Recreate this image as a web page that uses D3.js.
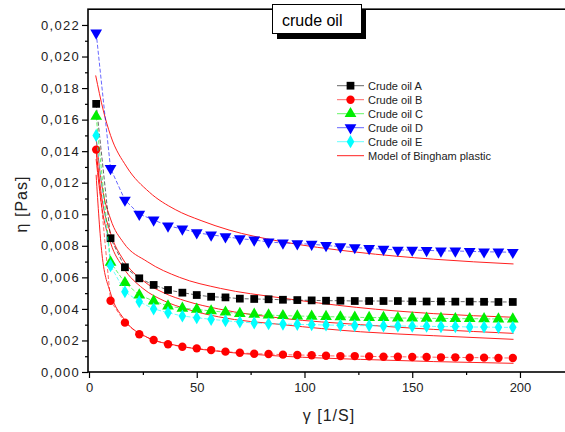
<!DOCTYPE html>
<html>
<head>
<meta charset="utf-8">
<script src="https://cdn.jsdelivr.net/npm/d3@7"></script>
<style>
  body { margin: 0; background: #fff; }
  text { font-family: Arial, "Liberation Sans", sans-serif; }
</style>
</head>
<body>
<svg id="chart"></svg>
<script>
const width = 565;
const height = 432;

// shear rate steps [1/s]
const shearRate = [3.33, 10, 16.67, 23.33, 30, 36.67, 43.33, 50, 56.67, 63.33,
  70, 76.67, 83.33, 90, 96.67, 103.33, 110, 116.67, 123.33, 130,
  136.67, 143.33, 150, 156.67, 163.33, 170, 176.67, 183.33, 190, 196.67];

const oilA = [0.0170, 0.00848, 0.00664, 0.00594, 0.00552, 0.00520, 0.00503, 0.00488, 0.00477, 0.00473,
  0.00465, 0.00463, 0.00461, 0.00458, 0.00456, 0.00454, 0.00452, 0.00452, 0.00450, 0.00450,
  0.00450, 0.00450, 0.00448, 0.00447, 0.00447, 0.00446, 0.00446, 0.00445, 0.00444, 0.00444];
const oilB = [0.0141, 0.00452, 0.00313, 0.00239, 0.00203, 0.00176, 0.00160, 0.00150, 0.00139, 0.00129,
  0.00122, 0.00116, 0.00114, 0.00110, 0.00108, 0.00106, 0.00103, 0.00101, 0.00101, 0.00099,
  0.00097, 0.00097, 0.00095, 0.00095, 0.00093, 0.00093, 0.00091, 0.00091, 0.00089, 0.00089];
const oilC = [0.0162, 0.00695, 0.00566, 0.00488, 0.00450, 0.00418, 0.00404, 0.00397, 0.00387, 0.00379,
  0.00370, 0.00366, 0.00361, 0.00357, 0.00355, 0.00353, 0.00351, 0.00349, 0.00347, 0.00345,
  0.00345, 0.00342, 0.00342, 0.00340, 0.00340, 0.00338, 0.00338, 0.00337, 0.00336, 0.00336];
const oilD = [0.0215, 0.01291, 0.01090, 0.01001, 0.00964, 0.00926, 0.00907, 0.00883, 0.00869, 0.00858,
  0.00845, 0.00837, 0.00824, 0.00818, 0.00814, 0.00810, 0.00802, 0.00795, 0.00789, 0.00783,
  0.00779, 0.00773, 0.00773, 0.00771, 0.00768, 0.00767, 0.00765, 0.00762, 0.00761, 0.00759];
const oilE = [0.0150, 0.00674, 0.00509, 0.00446, 0.00400, 0.00376, 0.00355, 0.00344, 0.00334, 0.00325,
  0.00317, 0.00311, 0.00306, 0.00304, 0.00302, 0.00300, 0.00298, 0.00296, 0.00294, 0.00294,
  0.00292, 0.00292, 0.00290, 0.00290, 0.00288, 0.00288, 0.00285, 0.00285, 0.00283, 0.00283];

// Bingham plastic model curves as [shear rate, viscosity]
const modelA = [[3.3, 0.0148], [6, 0.0118], [10, 0.0097], [16, 0.0082], [27, 0.0070], [42, 0.0060],
  [61, 0.0053], [89, 0.0047], [124, 0.0041], [160, 0.0037], [197, 0.00347]];
const modelB = [[3.3, 0.0125], [6, 0.0075], [10, 0.0050], [16, 0.0034], [27, 0.0022], [40, 0.0017],
  [61, 0.0013], [90, 0.0010], [126, 0.0008], [160, 0.00066], [197, 0.00055]];
const modelC = [[3.3, 0.0140], [6, 0.0110], [10, 0.0088], [16, 0.0071], [25, 0.0058], [35, 0.0050],
  [45, 0.0045], [60, 0.0040], [90, 0.0034], [126, 0.0030], [160, 0.0027], [197, 0.00245]];
const modelD = [[3.1, 0.0188], [6.6, 0.0166], [10, 0.0150], [17.5, 0.0130], [28, 0.0114], [40, 0.0103],
  [52, 0.0096], [65, 0.0090], [88, 0.0083], [124, 0.0076], [160, 0.00715], [197, 0.00685]];
const modelE = [[3.3, 0.0135], [6, 0.0104], [10, 0.0082], [16, 0.0066], [25, 0.0053], [35, 0.0045],
  [45, 0.0040], [60, 0.0035], [90, 0.0030], [126, 0.00255], [160, 0.0023], [197, 0.00207]];

const seriesNames = ['Crude oil A', 'Crude oil B', 'Crude oil C', 'Crude oil D', 'Crude oil E'];
const seriesColors = ['#000000', '#ff0000', '#00ee00', '#0000ff', '#00ffff'];
const seriesSymbols = [d3.symbolSquare, d3.symbolCircle, d3.symbolTriangle, d3.symbolTriangle, d3.symbolDiamond];
const seriesValues = [oilA, oilB, oilC, oilD, oilE];
const models = [modelA, modelB, modelC, modelD, modelE];

const xTicks = [0, 50, 100, 150, 200];
const xMinor = [25, 75, 125, 175, 225];
const yTicks = [0, 0.002, 0.004, 0.006, 0.008, 0.010, 0.012, 0.014, 0.016, 0.018, 0.020, 0.022];
const yMinor = [0.001, 0.003, 0.005, 0.007, 0.009, 0.011, 0.013, 0.015, 0.017, 0.019, 0.021];

const svg = d3.select('#chart')
  .attr('width', width)
  .attr('height', height);

const x = d3.scaleLinear().domain([0, 226]).range([89, 576]);
const y = d3.scaleLinear().domain([0, 0.023]).range([372, 9.2]);

const fmt = d => d3.format('.3f')(d).replace('.', ',');

// frame
svg.append('rect')
  .attr('x', x(0) - 1)
  .attr('y', y(0.023))
  .attr('width', x(226) - x(0) + 1)
  .attr('height', y(0) - y(0.023))
  .attr('fill', 'none')
  .attr('stroke', '#000')
  .attr('stroke-width', 1.6);

// model curves
const modelLine = d3.line()
  .x(d => x(d[0]))
  .y(d => y(d[1]))
  .curve(d3.curveMonotoneX);

svg.append('g')
  .selectAll('path')
  .data(models)
  .enter()
  .append('path')
    .attr('d', modelLine)
    .attr('fill', 'none')
    .attr('stroke', '#ff2020')
    .attr('stroke-width', 1);

// data lines + markers
const dataLine = d3.line()
  .x((d, i) => x(shearRate[i]))
  .y(d => y(d));

seriesValues.forEach((vals, s) => {
  const g = svg.append('g');
  g.append('path')
    .attr('d', dataLine(vals))
    .attr('fill', 'none')
    .attr('stroke', seriesColors[s])
    .attr('stroke-opacity', 0.6)
    .attr('stroke-dasharray', '4,2')
    .attr('stroke-width', 1);

  const size = s === 1 ? 55 : s === 4 ? 50 : 60;
  const sym = d3.symbol().type(seriesSymbols[s]).size(size);
  g.selectAll('path.marker')
    .data(vals)
    .enter()
    .append('path')
      .classed('marker', true)
      .attr('d', sym)
      .attr('transform', (d, i) => `translate(${x(shearRate[i])},${y(d)})` + (s === 3 ? ' rotate(180)' : ''))
      .attr('fill', seriesColors[s]);
});

// axes
svg.append('g')
  .attr('transform', `translate(${x(0) - 1},0)`)
  .call(d3.axisLeft(y).tickValues(yTicks).tickFormat(fmt).tickSize(6).tickPadding(2))
  .selectAll('text')
    .style('letter-spacing', '1.3px');
svg.append('g')
  .attr('transform', `translate(${x(0) - 1},0)`)
  .call(d3.axisLeft(y).tickValues(yMinor).tickFormat('').tickSize(3));

svg.append('g')
  .attr('transform', `translate(0,${y(0)})`)
  .call(d3.axisBottom(x).tickValues(xTicks).tickSize(6).tickPadding(5));
svg.append('g')
  .attr('transform', `translate(0,${y(0)})`)
  .call(d3.axisBottom(x).tickValues(xMinor).tickFormat('').tickSize(3));

svg.selectAll('.domain').remove();
svg.selectAll('.tick line').attr('stroke', '#000').attr('stroke-width', 1.2);
svg.selectAll('.tick text')
  .attr('fill', '#222')
  .style('font-size', '13px');

// axis titles
svg.append('text')
  .attr('x', 329)
  .attr('y', 421)
  .attr('text-anchor', 'middle')
  .style('font-size', '16px')
  .style('letter-spacing', '1px')
  .attr('fill', '#222')
  .text('γ [1/S]');

svg.append('text')
  .attr('transform', 'translate(27,204) rotate(-90)')
  .attr('text-anchor', 'middle')
  .style('font-size', '16px')
  .style('letter-spacing', '1px')
  .attr('fill', '#222')
  .text('η [Pas]');

// title box with shadow
svg.append('rect')
  .attr('x', 277).attr('y', 9)
  .attr('width', 89).attr('height', 30)
  .attr('fill', '#000');
svg.append('rect')
  .attr('x', 272.5).attr('y', 4.5)
  .attr('width', 89).attr('height', 29)
  .attr('fill', '#fff')
  .attr('stroke', '#000')
  .attr('stroke-width', 1);
svg.append('text')
  .attr('x', 282)
  .attr('y', 26)
  .style('font-size', '16px')
  .attr('fill', '#000')
  .text('crude oil');

// legend
const legend = svg.append('g');
const legendRows = seriesNames.map((name, i) => ({ name, i })).concat([{ name: 'Model of Bingham plastic', i: -1 }]);

const rows = legend.selectAll('g')
  .data(legendRows)
  .enter()
  .append('g')
    .attr('transform', (d, k) => `translate(0,${85.7 + k * 14})`);

rows.append('line')
  .attr('x1', 337).attr('x2', 364)
  .attr('stroke', d => d.i < 0 ? '#ff2020' : seriesColors[d.i])
  .attr('stroke-opacity', d => d.i < 0 ? 1 : 0.6)
  .attr('stroke-width', 1);

rows.filter(d => d.i >= 0)
  .append('path')
    .attr('d', d => d3.symbol().type(seriesSymbols[d.i]).size(d.i === 1 ? 55 : d.i === 4 ? 50 : 60)())
    .attr('transform', d => 'translate(350.5,0)' + (d.i === 3 ? ' rotate(180)' : ''))
    .attr('fill', d => seriesColors[d.i]);

rows.append('text')
  .attr('x', 368)
  .attr('dy', '0.35em')
  .style('font-size', '11px')
  .attr('fill', '#222')
  .text(d => d.name);
</script>
</body>
</html>
